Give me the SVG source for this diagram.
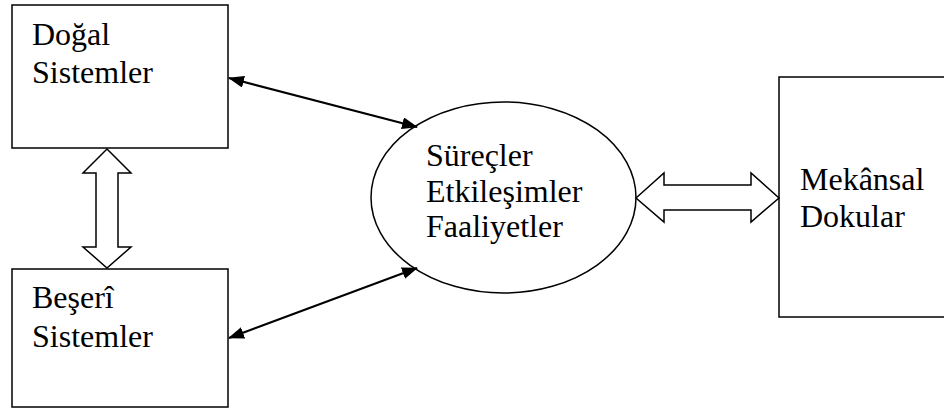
<svg xmlns="http://www.w3.org/2000/svg" width="944" height="410" viewBox="0 0 944 410">
<style>
.box{fill:#fff;stroke:#000;stroke-width:1.5}
.t{font-family:"Liberation Serif","Times New Roman",serif;font-size:32px;fill:#000}
.con{stroke:#000;stroke-width:2.2;fill:none}
.blk{fill:#fff;stroke:#000;stroke-width:1.5;stroke-linejoin:miter}
</style>
<defs>
<marker id="ah" viewBox="0 0 16 12" refX="15" refY="6" markerWidth="16" markerHeight="12" markerUnits="userSpaceOnUse" orient="auto-start-reverse">
<path d="M0,0 L16,6 L0,12 Z" fill="#000"/>
</marker>
</defs>
<g id="dogal">
<rect class="box" x="12" y="5" width="216" height="143"/>
<text class="t" x="32" y="45">Doğal</text>
<text class="t" x="32" y="83">Sistemler</text>
</g>
<g id="beseri">
<rect class="box" x="12" y="269" width="216" height="138"/>
<text class="t" x="32" y="308">Beşerî</text>
<text class="t" x="32" y="347">Sistemler</text>
</g>
<g id="surecler">
<ellipse class="box" cx="503.5" cy="197.5" rx="132.5" ry="95.5"/>
<text class="t" x="426" y="166">Süreçler</text>
<text class="t" x="426" y="202">Etkileşimler</text>
<text class="t" x="426" y="237">Faaliyetler</text>
</g>
<g id="mekansal">
<rect class="box" x="779" y="77" width="170" height="240"/>
<text class="t" x="800" y="190">Mekânsal</text>
<text class="t" x="800" y="227">Dokular</text>
</g>
<g id="connectors">
<line class="con" x1="229" y1="78" x2="417" y2="127" marker-start="url(#ah)" marker-end="url(#ah)"/>
<line class="con" x1="229" y1="338" x2="417" y2="268" marker-start="url(#ah)" marker-end="url(#ah)"/>
<path class="blk" d="M107,149 L131,173 L118,173 L118,247 L131,247 L107,268 L83,247 L96,247 L96,173 L83,173 Z"/>
<path class="blk" d="M636,198 L664,173 L664,185 L751,185 L751,173 L779,198 L751,222 L751,210 L664,210 L664,222 Z"/>
</g>
</svg>
